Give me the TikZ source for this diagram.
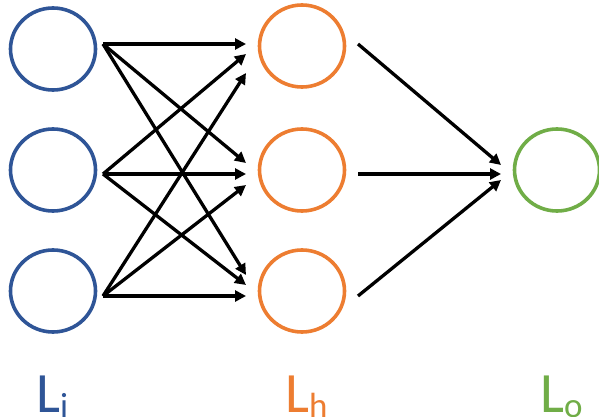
\documentclass[tikz,border=0pt]{standalone}
\usepackage{fontspec}
\setmainfont{Carlito}
\usetikzlibrary{arrows.meta,shapes.geometric}
\definecolor{inblue}{HTML}{2F5597}
\definecolor{hidorange}{HTML}{ED7D31}
\definecolor{outgreen}{HTML}{70AD47}
\tikzset{
  neuron/.style={ellipse, draw, line width=3.6pt, minimum width=85pt, minimum height=82pt, inner sep=0pt},
  inneuron/.style={neuron, draw=inblue},
  hidneuron/.style={neuron, draw=hidorange},
  outneuron/.style={neuron, draw=outgreen},
  conn/.style={line width=3.3pt, -{Triangle[length=11pt,width=11pt]}},
  lbl/.style={anchor=base west, inner sep=0pt, font=\fontsize{57}{60}\selectfont}
}
\newcommand{\subtxt}[1]{\raisebox{-5pt}{\fontsize{35}{36}\selectfont #1}}
\begin{document}
\begin{tikzpicture}[x=1pt,y=-1pt]
\useasboundingbox (0,0) rectangle (599,417);
% neurons
\node[inneuron] (i1) at (53,49) {};
\node[inneuron] (i2) at (53,170) {};
\node[inneuron] (i3) at (53,291) {};
\node[hidneuron] (h1) at (302,46) {};
\node[hidneuron] (h2) at (302,170) {};
\node[hidneuron] (h3) at (302,291) {};
\node[outneuron] (o1) at (557,170) {};
% ports
\coordinate (s1) at (103,44);
\coordinate (s2) at (103,174);
\coordinate (s3) at (103,296);
\coordinate (e11) at (246,44);
\coordinate (e21) at (246,54);
\coordinate (e31) at (246,73);
\coordinate (e12) at (246,163);
\coordinate (e22) at (246,174);
\coordinate (e32) at (246,185);
\coordinate (e13) at (246,275);
\coordinate (e23) at (246,285);
\coordinate (e33) at (246,296);
\coordinate (t1) at (358,44);
\coordinate (t2) at (358,174);
\coordinate (t3) at (358,296);
\coordinate (f1) at (501,165);
\coordinate (f2) at (501,174);
\coordinate (f3) at (501,180);
% connections input -> hidden
\foreach \i in {1,2,3}{
  \foreach \j in {1,2,3}{
    \draw[conn] (s\i) -- (e\i\j);
  }
}
% hidden -> output
\foreach \k in {1,2,3}{
  \draw[conn] (t\k) -- (f\k);
}
% labels
\node[lbl, text=inblue] (li) at (36,412) {L\subtxt{i}};
\node[lbl, text=hidorange] (lh) at (285,412) {L\subtxt{h}};
\node[lbl, text=outgreen] (lo) at (540,412) {L\subtxt{o}};
\end{tikzpicture}
\end{document}
